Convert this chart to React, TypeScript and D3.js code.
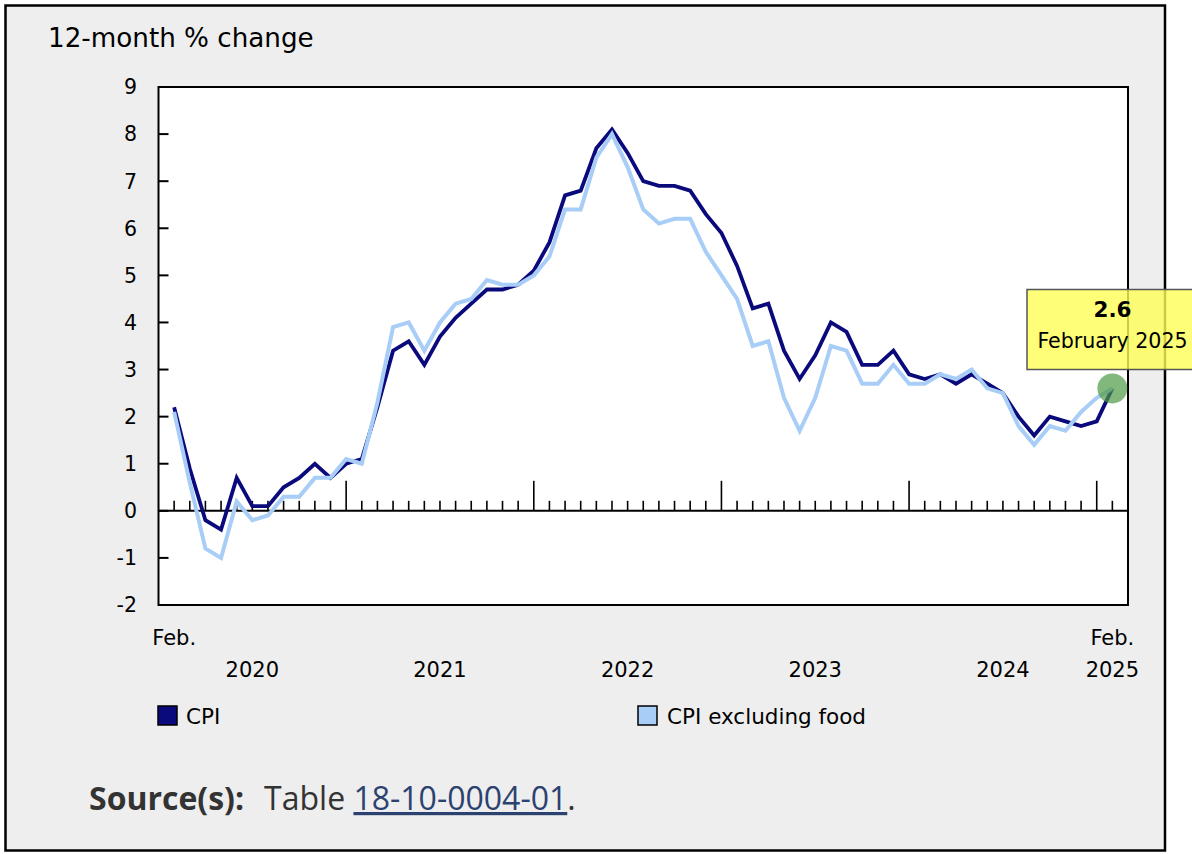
import React from "react";
import * as d3 from "d3";

// ---- data ----
const months: string[] = [
  "2020-02","2020-03","2020-04","2020-05","2020-06","2020-07","2020-08","2020-09","2020-10","2020-11","2020-12",
  "2021-01","2021-02","2021-03","2021-04","2021-05","2021-06","2021-07","2021-08","2021-09","2021-10","2021-11","2021-12",
  "2022-01","2022-02","2022-03","2022-04","2022-05","2022-06","2022-07","2022-08","2022-09","2022-10","2022-11","2022-12",
  "2023-01","2023-02","2023-03","2023-04","2023-05","2023-06","2023-07","2023-08","2023-09","2023-10","2023-11","2023-12",
  "2024-01","2024-02","2024-03","2024-04","2024-05","2024-06","2024-07","2024-08","2024-09","2024-10","2024-11","2024-12",
  "2025-01","2025-02",
];

const cpi: number[] = [
  2.2, 0.9, -0.2, -0.4, 0.7, 0.1, 0.1, 0.5, 0.7, 1.0, 0.7,
  1.0, 1.1, 2.2, 3.4, 3.6, 3.1, 3.7, 4.1, 4.4, 4.7, 4.7, 4.8,
  5.1, 5.7, 6.7, 6.8, 7.7, 8.1, 7.6, 7.0, 6.9, 6.9, 6.8, 6.3,
  5.9, 5.2, 4.3, 4.4, 3.4, 2.8, 3.3, 4.0, 3.8, 3.1, 3.1, 3.4,
  2.9, 2.8, 2.9, 2.7, 2.9, 2.7, 2.5, 2.0, 1.6, 2.0, 1.9, 1.8,
  1.9, 2.6,
];

const cpiExFood: number[] = [
  2.1, 0.6, -0.8, -1.0, 0.2, -0.2, -0.1, 0.3, 0.3, 0.7, 0.7,
  1.1, 1.0, 2.3, 3.9, 4.0, 3.4, 4.0, 4.4, 4.5, 4.9, 4.8, 4.8,
  5.0, 5.4, 6.4, 6.4, 7.5, 8.0, 7.3, 6.4, 6.1, 6.2, 6.2, 5.5,
  5.0, 4.5, 3.5, 3.6, 2.4, 1.7, 2.4, 3.5, 3.4, 2.7, 2.7, 3.1,
  2.7, 2.7, 2.9, 2.8, 3.0, 2.6, 2.5, 1.8, 1.4, 1.8, 1.7, 2.1,
  2.4, 2.6,
];

const yTicks: number[] = [9, 8, 7, 6, 5, 4, 3, 2, 1, 0, -1, -2];
const yearLabels: string[] = ["2020", "2021", "2022", "2023", "2024"];
const yearLabelMonths: string[] = ["2020-07", "2021-07", "2022-07", "2023-07", "2024-07"];
const seriesNames: string[] = ["CPI", "CPI excluding food"];
const tooltipValue = "2.6";
const tooltipDate = "February 2025";

const DARK = "#0a0a7d";
const LIGHT = "#a8cdf6";
const FONT = "DejaVu Sans, Verdana, sans-serif";

export default function App() {
  const W = 1192, H = 854;
  const left = 158.5, right = 1128, top = 87, bottom = 605;

  const idx = (m: string) => months.indexOf(m);
  const x = d3.scaleLinear().domain([-1, months.length]).range([left, right]);
  const y = d3.scaleLinear().domain([-2, 9]).range([bottom, top]);

  const line = d3
    .line<number>()
    .x((_, i) => x(i))
    .y((d) => y(d));

  const last = months.length - 1;
  const y0 = y(0);

  return (
    <svg
      width={W}
      height={H}
      style={{ position: "absolute", left: 0, top: 0, display: "block" }}
      fontFamily={FONT}
    >
      <rect x={0} y={0} width={W} height={H} fill="#ffffff" />
      <rect x={5.5} y={5.5} width={1159.5} height={845} fill="#eeeeee" stroke="#000" strokeWidth={2.5} />

      <text x={48} y={47} fontSize={26.2} fill="#000">12-month % change</text>

      {/* plot area */}
      <rect x={left} y={top} width={right - left} height={bottom - top} fill="#fff" />

      {/* y ticks */}
      {yTicks.map((t) => (
        <g key={t}>
          {t !== 9 && t !== -2 && (
            <line x1={left} x2={left + 10} y1={y(t)} y2={y(t)} stroke="#000" strokeWidth={2} />
          )}
          <text x={137} y={y(t)} dy="0.36em" textAnchor="end" fontSize={20.5} fill="#000">
            {t}
          </text>
        </g>
      ))}

      {/* zero line & month ticks */}
      <line x1={left} x2={right} y1={y0} y2={y0} stroke="#000" strokeWidth={2} />
      {months.map((m, i) => (
        <line
          key={m}
          x1={x(i)}
          x2={x(i)}
          y1={y0}
          y2={m.endsWith("-01") ? y0 - 30 : y0 - 10}
          stroke="#000"
          strokeWidth={1.6}
        />
      ))}

      {/* series */}
      <path d={line(cpi) || ""} fill="none" stroke={DARK} strokeWidth={3.8} strokeLinejoin="miter" />
      <path d={line(cpiExFood) || ""} fill="none" stroke={LIGHT} strokeWidth={4} strokeLinejoin="miter" />

      {/* plot border */}
      <rect x={left} y={top} width={right - left} height={bottom - top} fill="none" stroke="#000" strokeWidth={2} />

      {/* x labels */}
      <text x={x(0)} y={645} textAnchor="middle" fontSize={21} fill="#000">Feb.</text>
      {yearLabels.map((lab, k) => (
        <text key={lab} x={x(idx(yearLabelMonths[k]))} y={677} textAnchor="middle" fontSize={21} fill="#000">
          {lab}
        </text>
      ))}
      <text x={x(last)} y={645} textAnchor="middle" fontSize={21} fill="#000">Feb.</text>
      <text x={x(last)} y={677} textAnchor="middle" fontSize={21} fill="#000">2025</text>

      {/* legend */}
      <rect x={158} y={706} width={19} height={19} fill={DARK} stroke="#000" strokeWidth={1.5} />
      <text x={186} y={724} fontSize={21.5} fill="#000">{seriesNames[0]}</text>
      <rect x={638} y={706} width={19} height={19} fill={LIGHT} stroke="#000" strokeWidth={1.5} />
      <text x={667} y={724} fontSize={21.5} fill="#000">{seriesNames[1]}</text>

      {/* highlight */}
      <circle cx={x(last)} cy={y(cpi[last])} r={15} fill="#4f9a45" fillOpacity={0.7} />

      {/* tooltip */}
      <rect x={1027} y={289.5} width={175} height={80} fill="#ffff55" fillOpacity={0.8} stroke="#555" strokeWidth={1.5} />
      <text x={1112.5} y={317} textAnchor="middle" fontSize={21.5} fontWeight="bold" fill="#000">{tooltipValue}</text>
      <text x={1112.5} y={348} textAnchor="middle" fontSize={20.6} fill="#000">{tooltipDate}</text>

      {/* source */}
      <text x={89} y={810} fontFamily="Open Sans, Noto Sans, sans-serif" fontSize={32} fill="#333">
        <tspan fontWeight="bold">Source(s):</tspan>
        <tspan dx={20}>Table </tspan>
        <tspan fill="#2b4270" textDecoration="underline">18-10-0004-01</tspan>
        <tspan>.</tspan>
      </text>
    </svg>
  );
}
